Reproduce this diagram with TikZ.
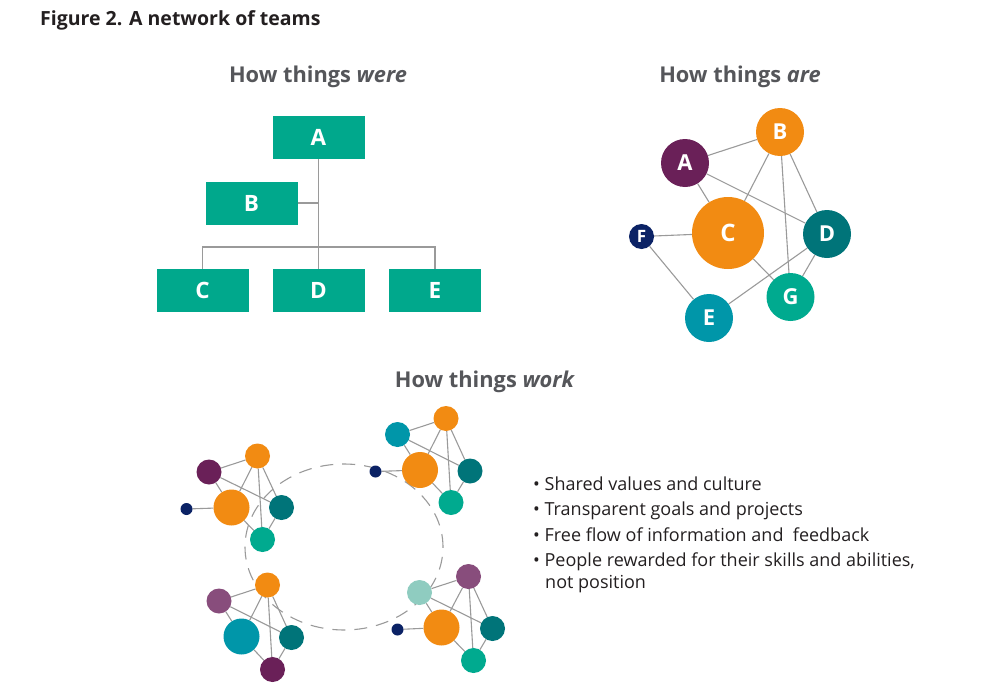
\documentclass[tikz,border=0pt]{standalone}
\usepackage{fontspec}
\setmainfont{Open Sans}
\usetikzlibrary{backgrounds,shapes.geometric}

\definecolor{orggreen}{HTML}{00A88C}
\definecolor{linegray}{HTML}{9A9A9A}
\definecolor{headgray}{HTML}{55565A}
\definecolor{bodytext}{HTML}{231F20}
\definecolor{tmorange}{HTML}{F28B12}
\definecolor{tmpurple}{HTML}{6A2058}
\definecolor{tmmauve}{HTML}{884D7C}
\definecolor{tmdteal}{HTML}{007479}
\definecolor{tmnavy}{HTML}{0B2265}
\definecolor{tmblue}{HTML}{0096A9}
\definecolor{tmgreen}{HTML}{00AA8F}
\definecolor{tmmint}{HTML}{8FCCC0}

\tikzset{
    orgbox/.style={fill=orggreen,
        minimum width=92pt,
        minimum height=43pt,
        inner sep=0pt,
        text=white,
        font=\bfseries\fontsize{22.5}{24}\selectfont},
    member/.style={circle,
        inner sep=0pt,
        minimum size=#1,
        text=white,
        font=\bfseries\fontsize{22}{24}\selectfont},
    link/.style={draw=linegray, line width=1.1pt},
    heading/.style={anchor=base, inner sep=0pt, text=headgray,
        font=\bfseries\fontsize{21.8}{24}\selectfont},
    bullet/.style={anchor=base west, align=left, inner sep=0pt, text=bodytext,
        font=\fontsize{18}{21.5}\selectfont}
}

\begin{document}
\begin{tikzpicture}[x=1pt, y=-1pt]
\useasboundingbox (0,0) rectangle (997,699);

% Figure title
\node[anchor=base west, inner sep=0pt, text=bodytext, font=\bfseries\fontsize{19.5}{22}\selectfont] (title) at (40,25) {Figure 2. A network of teams};

% Headings
\node[heading] (were) at (318,82) {How things \textit{were}};
\node[heading] (are) at (740,82) {How things \textit{are}};
\node[heading] (work) at (485,387) {How things \textit{work}};

% Hierarchy boxes
\node[orgbox] (A) at (318.5,137.5) {A};
\node[orgbox] (B) at (251.5,203) {B};
\node[orgbox] (C) at (202.5,290.5) {C};
\node[orgbox] (D) at (318.5,290.5) {D};
\node[orgbox] (E) at (435,290.5) {E};

% Hierarchy lines
\coordinate (bus) at (318.5,247);
\draw[link] (A.south) -- (D.north);
\draw[link] (B.east) -- (B.east -| A.south);
\draw[link] (C.north) |- (bus) -| (E.north);

% Network of teams
\node[member=48pt, fill=tmpurple] (nA) at (685,163) {A};
\node[member=48pt, fill=tmorange] (nB) at (780,132) {B};
\node[member=72pt, fill=tmorange, font=\bfseries\fontsize{24}{26}\selectfont] (nC) at (728,233) {C};
\node[member=48pt, fill=tmdteal] (nD) at (827,234) {D};
\node[member=48pt, fill=tmblue] (nE) at (709,318) {E};
\node[member=25pt, fill=tmnavy, font=\bfseries\fontsize{17}{18}\selectfont] (nF) at (641.5,236.5) {F};
\node[member=48pt, fill=tmgreen] (nG) at (790.5,297) {G};

\begin{scope}[on background layer]
\foreach \u/\v in {A/B, A/C, A/D, B/C, B/G, B/D, F/C, F/E, C/G, E/D, D/G}
    \draw[link] (n\u) -- (n\v);
\end{scope}

% Ring joining the teams
\node[draw=linegray, line width=1.1pt, dash pattern=on 13pt off 9pt,
    ellipse, minimum width=198pt, minimum height=166pt,
    inner sep=0pt] (ring) at (344,547) {};

% Team 1
\node[member=25pt, fill=tmpurple] (a1) at (209,472) {};
\node[member=25pt, fill=tmorange] (b1) at (257.5,456) {};
\node[member=36pt, fill=tmorange] (c1) at (231.5,507.5) {};
\node[member=25pt, fill=tmdteal] (d1) at (281.5,507.5) {};
\node[member=12pt, fill=tmnavy] (f1) at (186.5,509) {};
\node[member=25pt, fill=tmgreen] (g1) at (262.5,539.5) {};

% Team 2
\node[member=25pt, fill=tmblue] (a2) at (397.5,434.5) {};
\node[member=25pt, fill=tmorange] (b2) at (446,418.5) {};
\node[member=36pt, fill=tmorange] (c2) at (420,470) {};
\node[member=25pt, fill=tmdteal] (d2) at (470,471) {};
\node[member=12pt, fill=tmnavy] (f2) at (375.5,471.5) {};
\node[member=25pt, fill=tmgreen] (g2) at (451,502.5) {};

% Team 3
\node[member=25pt, fill=tmmauve] (a3) at (219,601) {};
\node[member=25pt, fill=tmorange] (b3) at (267.5,585) {};
\node[member=36pt, fill=tmblue] (c3) at (241.5,636.5) {};
\node[member=25pt, fill=tmdteal] (d3) at (291.5,637.5) {};
\node[member=25pt, fill=tmpurple] (g3) at (272.5,669.5) {};

% Team 4
\node[member=25pt, fill=tmmint] (a4) at (419.5,592.5) {};
\node[member=25pt, fill=tmmauve] (b4) at (468.5,576.5) {};
\node[member=36pt, fill=tmorange] (c4) at (441.5,627.5) {};
\node[member=25pt, fill=tmdteal] (d4) at (492.5,628.5) {};
\node[member=12pt, fill=tmnavy] (f4) at (397.5,629.5) {};
\node[member=25pt, fill=tmgreen] (g4) at (473.5,660.5) {};

\begin{scope}[on background layer]
\foreach \t in {1,2,3,4}
    \foreach \u/\v in {a/b, a/c, a/d, b/c, b/g, b/d, c/g, d/g}
        \draw[link] (\u\t) -- (\v\t);
\foreach \t in {1,2,4}
    \draw[link] (f\t) -- (c\t);
\end{scope}

% What makes it work
\node[bullet] (item1) at (533,490) {\textbullet\ Shared values and culture};
\node[bullet] (item2) at (533,515.5) {\textbullet\ Transparent goals and projects};
\node[bullet] (item3) at (533,541) {\textbullet\ Free flow of information and\ \ feedback};
\node[bullet] (item4) at (533,588) {\textbullet\ People rewarded for their skills and abilities,\\\hspace*{12pt}not position};

\end{tikzpicture}
\end{document}
